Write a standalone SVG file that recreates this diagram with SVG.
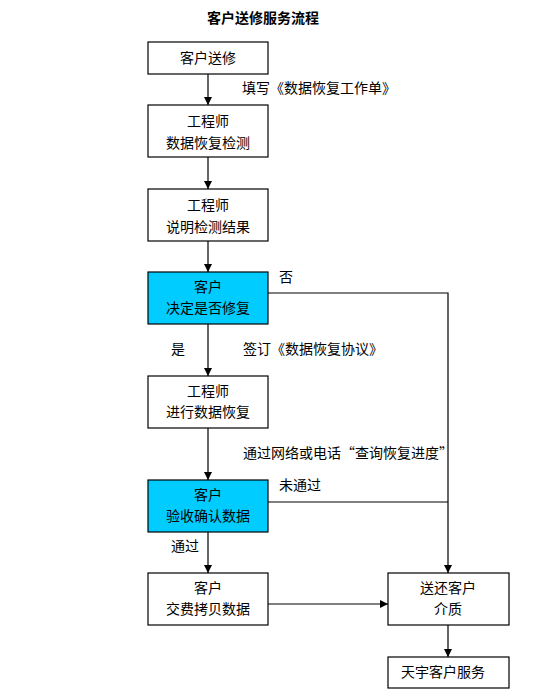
<svg xmlns="http://www.w3.org/2000/svg" width="557" height="699" viewBox="0 0 557 699">
<style>
text{font-family:"Noto Sans CJK SC","Liberation Sans",sans-serif;font-size:14px;fill:#000}
.c{text-anchor:middle}
.t{font-size:14px;font-weight:bold}
.box{fill:#fff;stroke:#000;stroke-width:1.2}
.hl{fill:#00CCFF;stroke:#000;stroke-width:1.2}
.ln{fill:none;stroke:#000;stroke-width:1.2}
</style>
<defs>
<marker id="ah" viewBox="0 0 8 8" refX="8" refY="4" markerWidth="8" markerHeight="8" markerUnits="userSpaceOnUse" orient="auto">
<path d="M0,0 L8,4 L0,8 Z" fill="#000"/>
</marker>
</defs>
<rect width="557" height="699" fill="#fff"/>
<text class="c t" x="263" y="23">客户送修服务流程</text>
<g id="connectors">
<line class="ln" x1="208" y1="74" x2="208" y2="105" marker-end="url(#ah)"/>
<line class="ln" x1="208" y1="157" x2="208" y2="189" marker-end="url(#ah)"/>
<line class="ln" x1="208" y1="241" x2="208" y2="272" marker-end="url(#ah)"/>
<line class="ln" x1="208" y1="324" x2="208" y2="376" marker-end="url(#ah)"/>
<line class="ln" x1="208" y1="428" x2="208" y2="480" marker-end="url(#ah)"/>
<line class="ln" x1="208" y1="532" x2="208" y2="573" marker-end="url(#ah)"/>
<line class="ln" x1="268" y1="604" x2="388" y2="604" marker-end="url(#ah)"/>
<polyline class="ln" points="268,293 448,293 448,573" marker-end="url(#ah)"/>
<line class="ln" x1="268" y1="502" x2="448" y2="502"/>
<line class="ln" x1="448" y1="625" x2="448" y2="657" marker-end="url(#ah)"/>
<text x="242" y="93">填写《数据恢复工作单》</text>
<text x="279" y="282">否</text>
<text x="171" y="354">是</text>
<text x="243" y="354">签订《数据恢复协议》</text>
<text x="243" y="458">通过网络或电话“查询恢复进度”</text>
<text x="279" y="490">未通过</text>
<text x="171" y="551">通过</text>
</g>
<g id="n1"><rect class="box" x="148" y="42" width="120" height="32"/><text class="c" x="208" y="63">客户送修</text></g>
<g id="n2"><rect class="box" x="148" y="105" width="120" height="52"/><text class="c" x="208" y="126">工程师</text><text class="c" x="208" y="148">数据恢复检测</text></g>
<g id="n3"><rect class="box" x="148" y="189" width="120" height="52"/><text class="c" x="208" y="210">工程师</text><text class="c" x="208" y="232">说明检测结果</text></g>
<g id="n4"><rect class="hl" x="148" y="272" width="120" height="52"/><text class="c" x="208" y="292">客户</text><text class="c" x="208" y="313">决定是否修复</text></g>
<g id="n5"><rect class="box" x="148" y="376" width="120" height="52"/><text class="c" x="208" y="396">工程师</text><text class="c" x="208" y="417">进行数据恢复</text></g>
<g id="n6"><rect class="hl" x="148" y="480" width="120" height="52"/><text class="c" x="208" y="500">客户</text><text class="c" x="208" y="521">验收确认数据</text></g>
<g id="n7"><rect class="box" x="148" y="573" width="120" height="52"/><text class="c" x="208" y="593">客户</text><text class="c" x="208" y="614">交费拷贝数据</text></g>
<g id="n8"><rect class="box" x="388" y="573" width="121" height="52"/><text class="c" x="448" y="593">送还客户</text><text class="c" x="448" y="614">介质</text></g>
<g id="n9"><rect class="box" x="388" y="657" width="121" height="31"/><text class="c" x="443" y="677">天宇客户服务</text></g>
</svg>
